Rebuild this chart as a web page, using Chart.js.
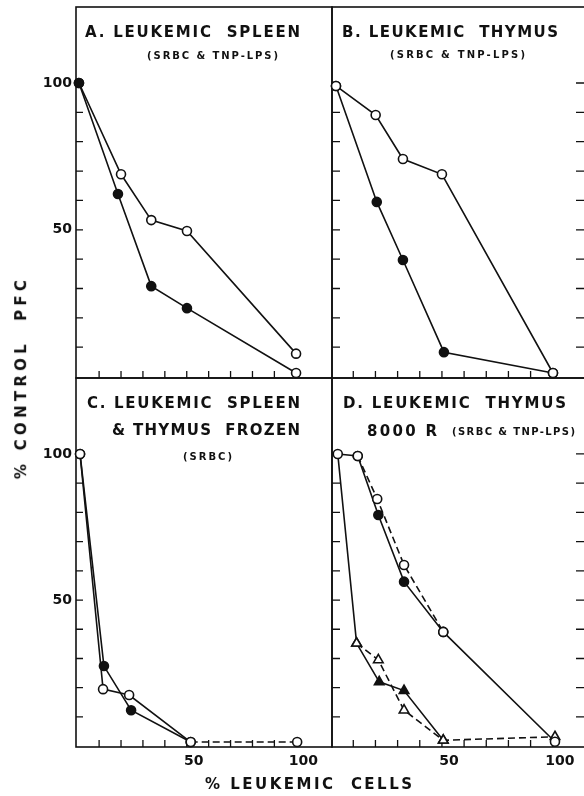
<!DOCTYPE html>
<html>
<head>
<meta charset="utf-8">
<script src="https://cdn.jsdelivr.net/npm/chart.js@4.4.1/dist/chart.umd.min.js"></script>
<style>
    html, body { margin: 0; padding: 0; background: #fff; overflow: hidden; }
    #wrap { position: relative; width: 584px; height: 796px; overflow: hidden; }
    canvas { position: absolute; }
    .lbl { position: absolute; white-space: pre; font-family: 'DejaVu Sans', sans-serif; color: #111; line-height: 1; }
</style>
</head>
<body>
<div id="wrap">
    <canvas id="panelA"></canvas>
    <canvas id="panelB"></canvas>
    <canvas id="panelC"></canvas>
    <canvas id="panelD"></canvas>
</div>
<script>
// tick values
const yTickLabels = [50, 100];
const xTickLabels = [50, 100];
const minorTicks = [10, 20, 30, 40, 50, 60, 70, 80, 90, 100];

// A. leukemic spleen
const aOpenX = [0.8, 20, 33.8, 50.1, 99.9];
const aOpenY = [100, 68.9, 53.3, 49.6, 7.8];
const aFillX = [0.8, 18.6, 33.8, 50.1, 99.9];
const aFillY = [100, 62.2, 30.8, 23.3, 1.2];

// B. leukemic thymus
const bOpenX = [2.2, 20.1, 32.4, 50, 100.1];
const bOpenY = [99, 89.1, 74.1, 68.9, 1.2];
const bFillX = [2.2, 20.6, 32.4, 50.9, 100.1];
const bFillY = [99, 59.5, 39.7, 8.3, 1.2];

// C. leukemic spleen & thymus frozen
const cOpenX = [1.3, 11.8, 23.7, 51.8, 100.4];
const cOpenY = [100, 19.5, 17.5, 1.4, 1.4];
const cFillX = [1.3, 12.2, 24.6, 51.8];
const cFillY = [100, 27.4, 12.3, 1.4];

// D. leukemic thymus 8000 R
const dOpenCircX = [12, 20.8, 32.9, 50.6];
const dOpenCircY = [99.3, 84.6, 62, 39.1];
const dFillCircX = [3, 12, 21.3, 32.9, 50.6, 101];
const dFillCircY = [100, 99.3, 79.1, 56.3, 39.1, 1.5];
const dOpenTriX = [11.5, 21.3, 32.9, 50.6, 101];
const dOpenTriY = [35.2, 29.5, 12.3, 2, 3.2];
const dFillTriX = [3, 11.5, 21.7, 32.9, 50.6];
const dFillTriY = [100, 35.2, 22, 19, 2];

const INK = '#111';
const DASH = [7, 4];
const tickFont = { family: "'DejaVu Sans', sans-serif", size: 14, weight: 'bold' };

const framePlugin = {
    id: 'frame',
    beforeDatasetsDraw(chart, args, opts) {
        const { ctx, chartArea: a, scales: { x, y } } = chart;
        ctx.save();
        ctx.strokeStyle = INK;
        ctx.lineWidth = 1.6;
        ctx.strokeRect(a.left, a.top, a.right - a.left, a.bottom - a.top);
        ctx.lineWidth = 1.3;
        ctx.beginPath();
        minorTicks.forEach(v => {
            const py = y.getPixelForValue(v);
            if (opts.left) { ctx.moveTo(a.left, py); ctx.lineTo(a.left + opts.left, py); }
            if (opts.right) { ctx.moveTo(a.right, py); ctx.lineTo(a.right - opts.right, py); }
            const px = x.getPixelForValue(v);
            ctx.moveTo(px, a.bottom);
            ctx.lineTo(px, a.bottom - opts.bottom);
        });
        ctx.stroke();
        ctx.restore();
    }
};

function series(xs, ys, extra) {
    return Object.assign({
        data: xs.map((x, i) => ({ x: x, y: ys[i] })),
        borderColor: INK,
        borderWidth: 1.6,
        pointRadius: 4.5,
        pointBorderWidth: 1.6,
        pointBorderColor: INK,
        pointBackgroundColor: '#fff',
        tension: 0,
        fill: false,
        clip: false
    }, extra);
}

function noEdgePadding(s) {
    s.paddingTop = 0;
    s.paddingBottom = 0;
    s.paddingLeft = 0;
    s.paddingRight = 0;
}

function panel(id, datasets, o) {
    const canvas = document.getElementById(id);
    canvas.width = o.w;
    canvas.height = o.h;
    canvas.style.left = o.left + 'px';
    canvas.style.top = o.top + 'px';
    return new Chart(canvas, {
        type: 'line',
        data: { datasets: datasets },
        options: {
            responsive: false,
            animation: false,
            layout: { padding: o.pad, autoPadding: false },
            plugins: { legend: { display: false }, tooltip: { enabled: false }, frame: o.frame },
            scales: {
                x: {
                    type: 'linear', min: o.xMin, max: o.xMax, display: o.xLabels,
                    grid: { display: false, drawTicks: false }, border: { display: false },
                    afterBuildTicks: s => { s.ticks = xTickLabels.map(v => ({ value: v })); },
                    afterFit: s => { s.height = o.xAxisH || 0; noEdgePadding(s); },
                    ticks: { padding: 6, labelOffset: 7, font: tickFont, color: INK, maxRotation: 0, autoSkip: false }
                },
                y: {
                    type: 'linear', min: o.yMin, max: o.yMax, display: o.yLabels,
                    grid: { display: false, drawTicks: false }, border: { display: false },
                    afterBuildTicks: s => { s.ticks = yTickLabels.map(v => ({ value: v })); },
                    afterFit: s => { s.width = o.yAxisW || 0; noEdgePadding(s); },
                    ticks: { padding: 4, font: tickFont, color: INK, autoSkip: false }
                }
            }
        },
        plugins: [framePlugin]
    });
}

panel('panelA', [
    series(aFillX, aFillY, { pointBackgroundColor: [INK, INK, INK, INK, '#fff'] }),
    series(aOpenX, aOpenY, { pointBackgroundColor: ['rgba(0,0,0,0)', '#fff', '#fff', '#fff', '#fff'] })
], { left: 0, top: 0, w: 334, h: 381, pad: { top: 7, right: 2, bottom: 3, left: 0 },
     xMin: -0.55, xMax: 116.3, yMin: -0.5, yMax: 125.9, xLabels: false, yLabels: true, yAxisW: 76,
     frame: { left: 7, right: 0, bottom: 7 } });

panel('panelB', [
    series(bOpenX, bOpenY, {}),
    series(bFillX, bFillY, { pointBackgroundColor: ['#fff', INK, INK, INK, '#fff'] })
], { left: 330, top: 0, w: 260, h: 381, pad: { top: 7, right: 2, bottom: 3, left: 2 },
     xMin: 0.4, xMax: 115.9, yMin: -0.5, yMax: 125.9, xLabels: false, yLabels: false,
     frame: { left: 8, right: 12, bottom: 7 } });

panel('panelC', [
    series(cOpenX, cOpenY, { segment: { borderDash: c => c.p0DataIndex === 3 ? DASH : undefined } }),
    series(cFillX, cFillY, { pointBackgroundColor: ['#fff', INK, INK, '#fff'] })
], { left: 0, top: 376, w: 334, h: 420, pad: { top: 2, right: 2, bottom: 0, left: 0 },
     xMin: -0.55, xMax: 116.3, yMin: -0.3, yMax: 126, xLabels: true, yLabels: true, yAxisW: 76, xAxisH: 49,
     frame: { left: 7, right: 0, bottom: 7 } });

panel('panelD', [
    series(dOpenCircX, dOpenCircY, { borderDash: DASH }),
    series(dFillCircX, dFillCircY, { pointBackgroundColor: ['#fff', '#fff', INK, INK, '#fff', '#fff'] }),
    series(dOpenTriX, dOpenTriY, { borderDash: DASH, pointStyle: 'triangle', pointRadius: 5.5 }),
    series(dFillTriX, dFillTriY, { pointStyle: 'triangle', pointRadius: [0, 5.5, 5.5, 5.5, 5.5],
                                   pointBackgroundColor: ['#fff', '#fff', INK, INK, '#fff'] })
], { left: 330, top: 376, w: 260, h: 420, pad: { top: 2, right: 2, bottom: 0, left: 2 },
     xMin: 0.4, xMax: 115.9, yMin: -0.3, yMax: 126, xLabels: true, yLabels: false, xAxisH: 49,
     frame: { left: 8, right: 12, bottom: 7 } });

// panel titles and axis titles: [text, left, right, centerY, size, weight, rotated]
const labels = [
    ['A. LEUKEMIC  SPLEEN', 85, 300, 32.5, 15, 'bold'],
    ['(SRBC & TNP-LPS)', 147, 278, 56, 10, 'bold'],
    ['B. LEUKEMIC  THYMUS', 342, 558, 32, 15, 'bold'],
    ['(SRBC & TNP-LPS)', 390, 525, 55, 10, 'bold'],
    ['C. LEUKEMIC  SPLEEN', 87, 300, 403.5, 15, 'bold'],
    ['& THYMUS  FROZEN', 112, 300, 430, 15, 'bold'],
    ['(SRBC)', 183, 232, 457, 10, 'bold'],
    ['D. LEUKEMIC  THYMUS', 343, 566, 403.5, 15, 'bold'],
    ['8000 R', 367, 437, 431, 15, 'bold'],
    ['(SRBC & TNP-LPS)', 452, 575, 432, 10, 'bold'],
    ['% LEUKEMIC  CELLS', 205, 412, 784, 15, 'bold'],
    ['% CONTROL  PFC', 278, 477, 22, 15, 'bold', true]
];

const wrap = document.getElementById('wrap');
labels.forEach(([text, l, r, cy, size, weight, rotated]) => {
    const el = document.createElement('div');
    el.className = 'lbl';
    el.textContent = text;
    el.style.fontSize = size + 'px';
    el.style.fontWeight = weight;
    wrap.appendChild(el);
    const natural = el.getBoundingClientRect().width;
    const target = r - l;
    const ls = (target - natural) / (text.length - 1);
    el.style.letterSpacing = ls + 'px';
    el.style.left = l + 'px';
    el.style.top = (cy - size * 0.48) + 'px';
    if (rotated) {
        // centred on (cy, (l + r) / 2) after turning
        const w = el.getBoundingClientRect().width;
        el.style.left = (cy - w / 2) + 'px';
        el.style.top = ((l + r) / 2 - size / 2) + 'px';
        el.style.transform = 'rotate(-90deg)';
    }
});
</script>
</body>
</html>
